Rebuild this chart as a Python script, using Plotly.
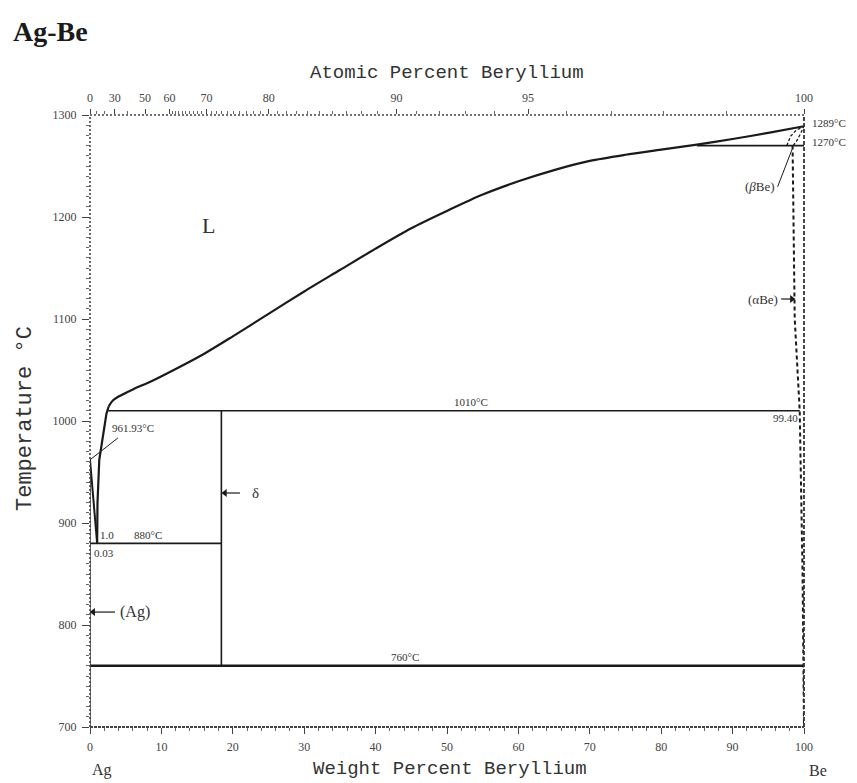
import plotly.graph_objects as go

# ---------------- data (wt% Be, temperature degC) ----------------
liq_steep_x = [1.0, 1.05, 1.3, 1.9, 2.3, 2.6]
liq_steep_T = [880, 920, 962, 990, 1007, 1014]
liq_x = [2.6, 3.2, 4.0, 6.0, 8.6, 12.0, 16.0, 20.0, 25.0, 30.0, 35.0, 40.0, 45.0, 50.0,
         55.0, 60.0, 65.0, 70.0, 75.0, 80.0, 85.0, 90.0, 95.0, 100.0]
liq_T = [1014, 1020, 1024, 1031, 1039, 1051, 1066, 1083, 1105, 1127, 1148, 1169, 1189, 1206,
         1222, 1235, 1246, 1255, 1261, 1266, 1271, 1276.5, 1282.5, 1289]
liq_left_x = [0.0, 0.5, 1.0]
liq_left_T = [961.93, 920, 880]
sol_ag_x = [0.0, 0.03, 0.0, 0.0]
sol_ag_T = [961.93, 880, 760, 700]
abe_x = [98.4, 98.7, 99.4, 99.8, 100.0]
abe_T = [1270, 1100, 1010, 850, 700]
bbe_up_x = [97.6, 98.1, 98.9, 100.0]
bbe_up_T = [1270, 1279, 1285, 1289]
bbe_lo_x = [98.5, 99.1, 99.6, 100.0]
bbe_lo_T = [1270, 1276, 1283, 1289]
delta_x = 18.4
iso_T = [880, 1010, 760, 1270]
iso_x0 = [0.03, 2.55, 0.0, 85.0]
iso_x1 = [18.4, 99.4, 100.0, 100.0]

wt_ticks = [0, 10, 20, 30, 40, 50, 60, 70, 80, 90, 100]
at_labels = [0, 30, 50, 60, 70, 80, 90, 95, 100]
at_minor = [10, 20, 40] + list(range(61, 100))

M_BE, M_AG = 9.012, 107.87


def at_to_wt(a):
    return 100.0 * a * M_BE / (a * M_BE + (100 - a) * M_AG)


LINE = "#1a1a1a"
TXT = "#333333"
fig = go.Figure()


def add_line(x, y, width=2.0, dash="solid", color=LINE, shape="linear"):
    fig.add_trace(go.Scatter(x=x, y=y, mode="lines", hoverinfo="skip", showlegend=False,
                             line=dict(color=color, width=width, dash=dash, shape=shape,
                                       smoothing=0.8 if shape == "spline" else None)))


add_line(liq_steep_x, liq_steep_T, 2.2)
add_line(liq_x, liq_T, 2.2, shape="spline")
add_line(liq_left_x, liq_left_T, 2.0)
add_line(sol_ag_x, sol_ag_T, 1.3)
for T, a, b in zip(iso_T, iso_x0, iso_x1):
    add_line([a, b], [T, T], 2.4 if T == 760 else 1.6)
add_line([delta_x, delta_x], [760, 1010], 1.6)
add_line(abe_x, abe_T, 2.0, "4px,3px")
add_line(bbe_up_x, bbe_up_T, 1.3, "3px,2px")
add_line(bbe_lo_x, bbe_lo_T, 1.3, "3px,2px")
# invisible trace for top axis
fig.add_trace(go.Scatter(x=[0, 100], y=[700, 700], xaxis="x2", mode="lines",
                         line=dict(width=0), hoverinfo="skip", showlegend=False))

# leader lines
add_line([0.0, 3.9], [961.93, 983.3], 1.0)
add_line([96.3, 98.4], [1229.6, 1267.6], 1.0)


def arrow(x_tail, x_head, y, symbol):
    fig.add_trace(go.Scatter(x=[x_tail, x_head], y=[y, y], mode="lines", hoverinfo="skip",
                             showlegend=False, line=dict(color=LINE, width=1.2)))
    fig.add_trace(go.Scatter(x=[x_head], y=[y], mode="markers", hoverinfo="skip",
                             showlegend=False,
                             marker=dict(symbol=symbol, size=7, color=LINE)))


arrow(3.5, 0.45, 812.7, "triangle-left")
arrow(21.0, 18.9, 929.4, "triangle-left")
arrow(96.8, 98.3, 1119.6, "triangle-right")

ann = []


def txt(x, y, s, size=11, xanchor="center", yanchor="middle", xref="x", yref="y",
        family="Liberation Serif", angle=0, color=TXT):
    ann.append(dict(x=x, y=y, text=s, xref=xref, yref=yref, showarrow=False,
                    xanchor=xanchor, yanchor=yanchor, textangle=angle,
                    font=dict(family=family, size=size, color=color)))


def px2paper_x(px):
    return (px - 90) / 714.0


def px2paper_y(py):
    return (727 - py) / 612.0


# titles
txt(px2paper_x(11), px2paper_y(31), "<b>Ag-Be</b>", 28, "left", xref="paper", yref="paper",
    color="#1a1a1a")
txt(px2paper_x(447), px2paper_y(73), "Atomic Percent Beryllium", 19, xref="paper",
    yref="paper", family="Liberation Mono")
txt(px2paper_x(450), px2paper_y(769), "Weight Percent Beryllium", 19, xref="paper",
    yref="paper", family="Liberation Mono")
txt(px2paper_x(90), px2paper_y(770), "Ag", 16, "left", xref="paper", yref="paper")
txt(px2paper_x(807), px2paper_y(770), "Be", 16, "left", xref="paper", yref="paper")
txt(px2paper_x(25), px2paper_y(419), "Temperature °C", 22, xref="paper",
    yref="paper", family="Liberation Mono", angle=-90)

# diagram labels
txt(16.6, 1192, "L", 22)
txt(53.4, 1011, "1010°C", 11, yanchor="bottom")
txt(44.1, 761, "760°C", 11, yanchor="bottom")
txt(99.4, 1003, "99.40", 11, "right")
txt(2.8, 993, "961.93°C", 11, "left")
txt(2.4, 888, "1.0", 11)
txt(8.1, 888, "880°C", 11)
txt(0.3, 870.5, "0.03", 11, "left")
txt(3.9, 812.7, "(Ag)", 16, "left")
txt(22.4, 929.4, "δ", 15, "left")
txt(96.6, 1119.6, "(αBe)", 13, "right")
txt(96.2, 1229.6, "(<i>β</i>Be)", 13, "right")
txt(px2paper_x(810), px2paper_y(123), "1289°C", 11, "left", xref="paper", yref="paper")
txt(px2paper_x(810), px2paper_y(142), "1270°C", 11, "left", xref="paper", yref="paper")

# frame (dotted / dashed axes as in the scanned plot)
shapes = [
    dict(type="line", xref="paper", yref="paper", x0=0, x1=0, y0=0, y1=1,
         line=dict(color="#444", width=1.6, dash="2px,2px")),
    dict(type="line", xref="paper", yref="paper", x0=0, x1=1, y0=1, y1=1,
         line=dict(color="#444", width=1.6, dash="2px,2px")),
    dict(type="line", xref="paper", yref="paper", x0=0, x1=1, y0=0, y1=0,
         line=dict(color="#444", width=1.8, dash="3px,1px")),
    dict(type="line", xref="paper", yref="paper", x0=1, x1=1, y0=0, y1=1,
         line=dict(color="#333", width=1.8, dash="4px,2px")),
]

tickfont = dict(family="Liberation Serif", size=12, color="#444")
fig.update_layout(
    width=857, height=783, margin=dict(l=90, r=53, t=115, b=56),
    paper_bgcolor="white", plot_bgcolor="white",
    annotations=ann, shapes=shapes, showlegend=False,
    xaxis=dict(range=[0, 100], tickvals=wt_ticks, ticks="outside", ticklen=6,
               tickcolor="#444", showgrid=False, zeroline=False, showline=False,
               tickfont=tickfont, ticklabelstandoff=3,
               minor=dict(ticks="outside", dtick=2, ticklen=3, tickcolor="#666")),
    xaxis2=dict(range=[0, 100], overlaying="x", side="top", anchor="y",
                tickvals=[at_to_wt(a) for a in at_labels], ticktext=[str(a) for a in at_labels],
                ticks="outside", ticklen=5, tickcolor="#444", showgrid=False,
                zeroline=False, showline=False, tickfont=tickfont, ticklabelstandoff=2,
                minor=dict(ticks="outside", tickvals=[at_to_wt(a) for a in at_minor],
                           ticklen=3, tickcolor="#666")),
    yaxis=dict(range=[700, 1300], tickvals=list(range(700, 1301, 100)), ticks="outside",
               ticklen=7, tickcolor="#444", showgrid=False, zeroline=False,
               showline=False, tickfont=tickfont, ticklabelstandoff=3,
               minor=dict(ticks="outside", dtick=10, ticklen=3, tickcolor="#666")),
)

fig.write_html("out.html")
